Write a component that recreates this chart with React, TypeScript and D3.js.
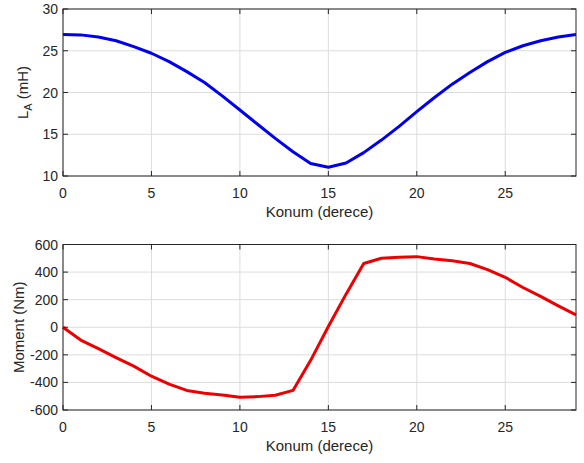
import React from 'react';
import * as d3 from 'd3';

// konum (derece)
const positions = d3.range(0, 30);

// LA inductance (mH)
const inductance = [
  26.95, 26.9, 26.65, 26.2, 25.5, 24.7, 23.7, 22.5, 21.2, 19.6,
  17.9, 16.2, 14.5, 12.9, 11.5, 11.05, 11.55, 12.8, 14.3, 15.95,
  17.7, 19.4, 21.0, 22.4, 23.7, 24.8, 25.6, 26.2, 26.65, 26.95,
];

// moment (Nm)
const torque = [
  0, -93, -155, -220, -282, -355, -412, -458, -478, -492,
  -508, -503, -493, -458, -240, 5, 240, 462, 500, 508,
  512, 495, 482, 462, 418, 362, 288, 224, 155, 90,
];

const xTicks = [0, 5, 10, 15, 20, 25];
const laTicks = [10, 15, 20, 25, 30];
const momentTicks = [-600, -400, -200, 0, 200, 400, 600];

const AXIS = '#262626';
const GRID = '#dcdcdc';
const FONT = '"Liberation Sans", Arial, sans-serif';

type PanelProps = {
  top: number;
  bottom: number;
  values: number[];
  yDomain: [number, number];
  yTicks: number[];
  color: string;
  yLabel: React.ReactNode;
  yLabelX: number;
};

const left = 63;
const right = 576;

const Panel = ({ top, bottom, values, yDomain, yTicks, color, yLabel, yLabelX }: PanelProps) => {
  const x = d3.scaleLinear().domain([0, 29]).range([left, right]);
  const y = d3.scaleLinear().domain(yDomain).range([bottom, top]);
  const line = d3
    .line<number>()
    .x((_, i) => x(positions[i]))
    .y(d => y(d));
  const tl = 5;

  return (
    <g fontFamily={FONT} fontSize={14} fill={AXIS}>
      <rect x={left} y={top} width={right - left} height={bottom - top} fill="white" />
      {xTicks.map(t => (
        <line key={'gx' + t} x1={x(t)} x2={x(t)} y1={top} y2={bottom} stroke={GRID} strokeWidth={1} />
      ))}
      {yTicks.map(t => (
        <line key={'gy' + t} x1={left} x2={right} y1={y(t)} y2={y(t)} stroke={GRID} strokeWidth={1} />
      ))}
      <path d={line(values) ?? ''} fill="none" stroke={color} strokeWidth={3} strokeLinejoin="round" />
      <rect x={left} y={top} width={right - left} height={bottom - top} fill="none" stroke={AXIS} strokeWidth={1} />
      {xTicks.map(t => (
        <g key={'tx' + t}>
          <line x1={x(t)} x2={x(t)} y1={bottom} y2={bottom - tl} stroke={AXIS} />
          <line x1={x(t)} x2={x(t)} y1={top} y2={top + tl} stroke={AXIS} />
          <text x={x(t)} y={bottom + 21.5} textAnchor="middle" stroke="none">
            {t}
          </text>
        </g>
      ))}
      {yTicks.map(t => (
        <g key={'ty' + t}>
          <line x1={left} x2={left + tl} y1={y(t)} y2={y(t)} stroke={AXIS} />
          <line x1={right} x2={right - tl} y1={y(t)} y2={y(t)} stroke={AXIS} />
          <text x={left - 5} y={y(t) + 5} textAnchor="end" stroke="none">
            {t}
          </text>
        </g>
      ))}
      <text x={(left + right) / 2} y={bottom + 40.5} textAnchor="middle" fontSize={15}>
        Konum (derece)
      </text>
      <text
        transform={`translate(${yLabelX}, ${(top + bottom) / 2}) rotate(-90)`}
        textAnchor="middle"
        fontSize={15}
      >
        {yLabel}
      </text>
    </g>
  );
};

export default function App() {
  return (
    <svg width={584} height={463} style={{ position: 'absolute', left: 0, top: 0, background: 'white' }}>
      <rect width={584} height={463} fill="white" />
      <Panel
        top={9}
        bottom={176}
        values={inductance}
        yDomain={[10, 30]}
        yTicks={laTicks}
        color="#0000ee"
        yLabelX={28}
        yLabel={
          <>
            L<tspan dy={4} fontSize={11}>A</tspan>
            <tspan dy={-4}> (mH)</tspan>
          </>
        }
      />
      <Panel
        top={244.5}
        bottom={410}
        values={torque}
        yDomain={[-600, 600]}
        yTicks={momentTicks}
        color="#ee0000"
        yLabelX={24}
        yLabel="Moment (Nm)"
      />
    </svg>
  );
}
